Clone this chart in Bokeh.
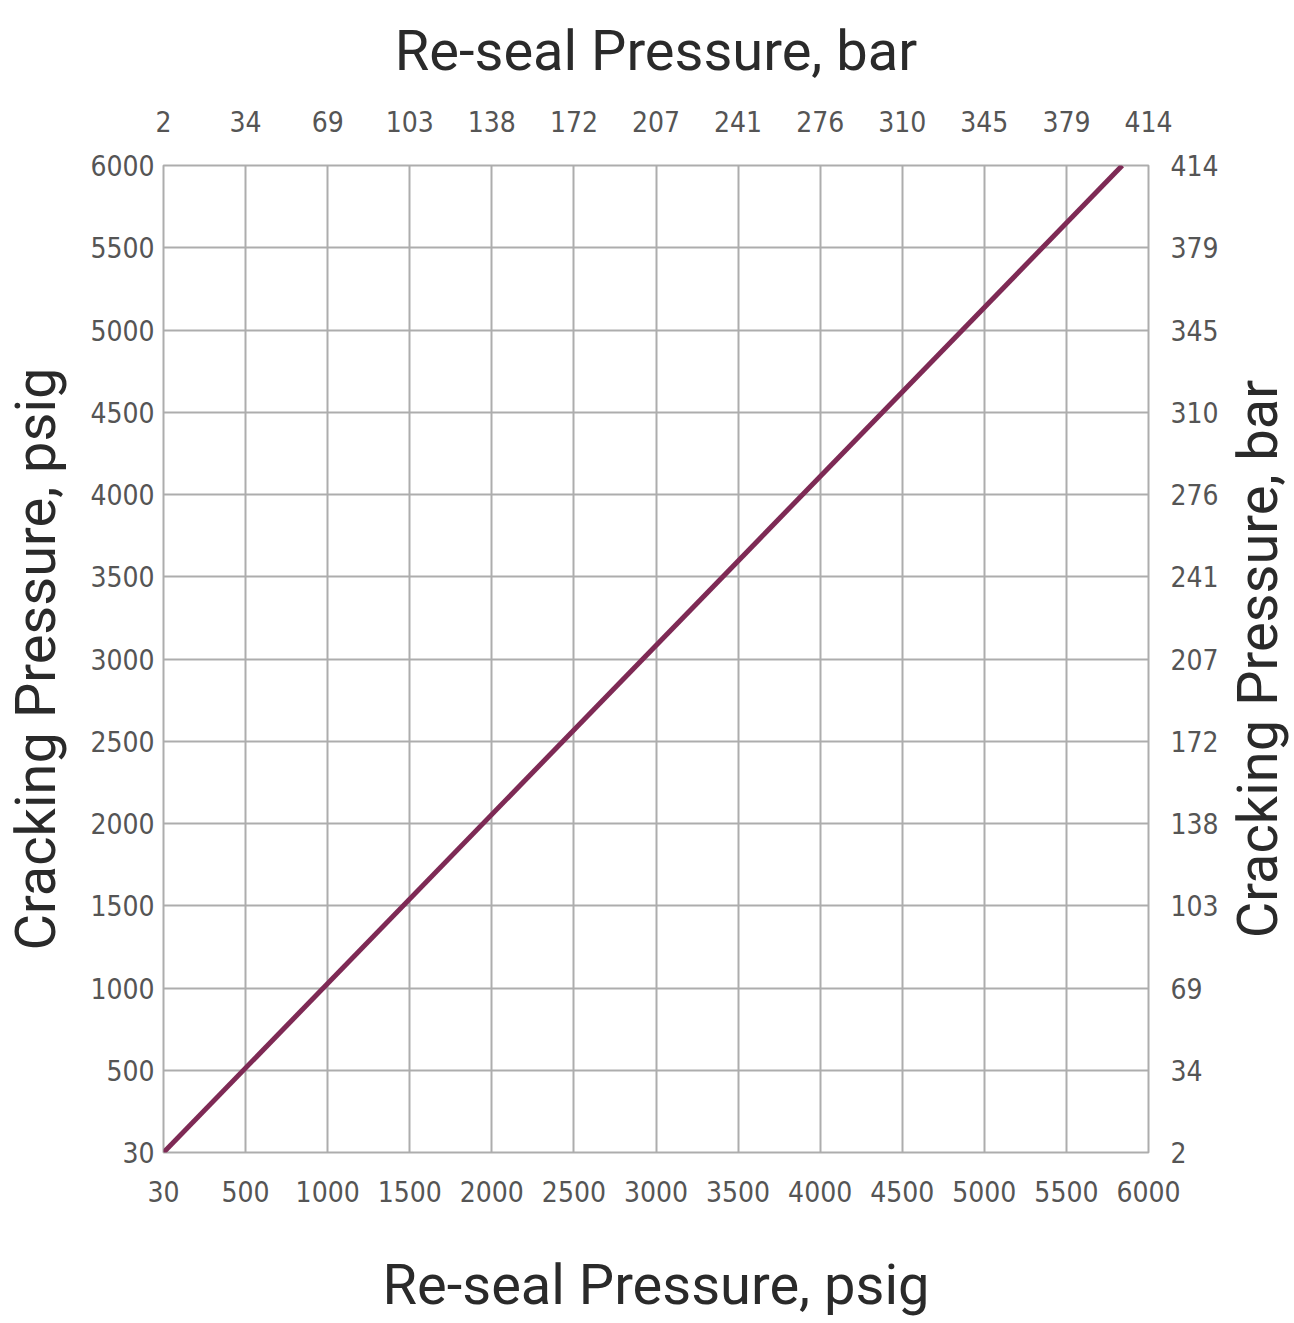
import numpy as np
from bokeh.plotting import figure
from bokeh.layouts import row
from bokeh.models import LinearAxis, Range1d, FixedTicker
from bokeh.embed import file_html
from bokeh.resources import INLINE

# ---- data ----
psig_ticks = [30, 500, 1000, 1500, 2000, 2500, 3000, 3500, 4000, 4500, 5000, 5500, 6000]
bar_ticks = ["2", "34", "69", "103", "138", "172", "207", "241", "276", "310", "345", "379", "414"]
reseal_psig = [30, 5840]
cracking_psig = [30, 6000]

# axis is evenly spaced: the "30" tick sits where 0 would be
def pos(v):
    return np.interp(v, [30, 500, 6000], [0, 500, 6000])

tick_pos = [float(pos(t)) for t in psig_ticks]
psig_labels = {p: str(t) for p, t in zip(tick_pos, psig_ticks)}
bar_labels = {p: b for p, b in zip(tick_pos, bar_ticks)}

p = figure(frame_width=985, frame_height=987, output_backend="svg", toolbar_location=None,
           x_range=Range1d(0, 6000), y_range=Range1d(0, 6000),
           min_border_left=155, min_border_right=0, min_border_top=165, min_border_bottom=160,
           x_axis_location=None, y_axis_location=None)
p.background_fill_color = "white"
p.border_fill_color = "white"
p.outline_line_color = "#adadad"
p.outline_line_width = 2

TICK_FONT = "'Liberation Sans Narrow', 'DejaVu Sans Condensed', Roboto"
TITLE_FONT = "Roboto"
TITLE_SIZE = "56px"
TITLE_COLOR = "#2a2a2a"

def style(ax, label, std, lstd):
    ax.ticker = FixedTicker(ticks=tick_pos)
    ax.axis_line_color = None
    ax.major_tick_line_color = None
    ax.minor_tick_line_color = None
    ax.major_label_text_font = TICK_FONT
    ax.major_label_text_font_size = "28px"
    ax.major_label_text_color = "#555555"
    ax.major_label_standoff = std
    ax.axis_label = label
    ax.axis_label_text_font = TITLE_FONT
    ax.axis_label_text_font_style = "normal"
    ax.axis_label_text_font_size = TITLE_SIZE
    ax.axis_label_text_color = TITLE_COLOR
    ax.axis_label_standoff = lstd

bottom = LinearAxis()
style(bottom, "Re-seal Pressure, psig", 22, 47)
bottom.major_label_overrides = psig_labels
p.add_layout(bottom, "below")

top = LinearAxis()
style(top, "Re-seal Pressure, bar", 28, 24)
top.major_label_overrides = bar_labels
p.add_layout(top, "above")

left = LinearAxis()
style(left, "Cracking Pressure, psig", 3, 18)
left.major_label_overrides = psig_labels
p.add_layout(left, "left")

right = LinearAxis()
style(right, None, 22, 0)
right.major_tick_out = 0
right.major_label_overrides = bar_labels
p.add_layout(right, "right")

# grid
for g in (p.xgrid, p.ygrid):
    g.ticker = FixedTicker(ticks=tick_pos)
    g.grid_line_color = "#adadad"
    g.grid_line_width = 2

p.line(pos(np.array(reseal_psig)), pos(np.array(cracking_psig)),
       line_color="#7e2a55", line_width=5)

# narrow companion figure that carries the right-hand title, reading bottom-to-top
p2 = figure(frame_width=2, frame_height=987, output_backend="svg", toolbar_location=None,
            x_range=Range1d(0, 1), y_range=p.y_range,
            min_border_left=68, min_border_right=0, min_border_top=165, min_border_bottom=0,
            x_axis_location=None, y_axis_location=None)
p2.outline_line_color = None
p2.background_fill_color = "white"
p2.border_fill_color = "white"
p2.xgrid.visible = False
p2.ygrid.visible = False
rt = LinearAxis()
rt.ticker = FixedTicker(ticks=[])
rt.axis_line_color = None
rt.major_tick_line_color = None
rt.minor_tick_line_color = None
rt.major_tick_out = 0
rt.major_label_standoff = 0
rt.axis_label = "Cracking Pressure, bar"
rt.axis_label_text_font = TITLE_FONT
rt.axis_label_text_font_style = "normal"
rt.axis_label_text_font_size = TITLE_SIZE
rt.axis_label_text_color = TITLE_COLOR
rt.axis_label_standoff = 0
p2.add_layout(rt, "left")

layout = row(p, p2)
open("out.html", "w").write(file_html(layout, INLINE))
